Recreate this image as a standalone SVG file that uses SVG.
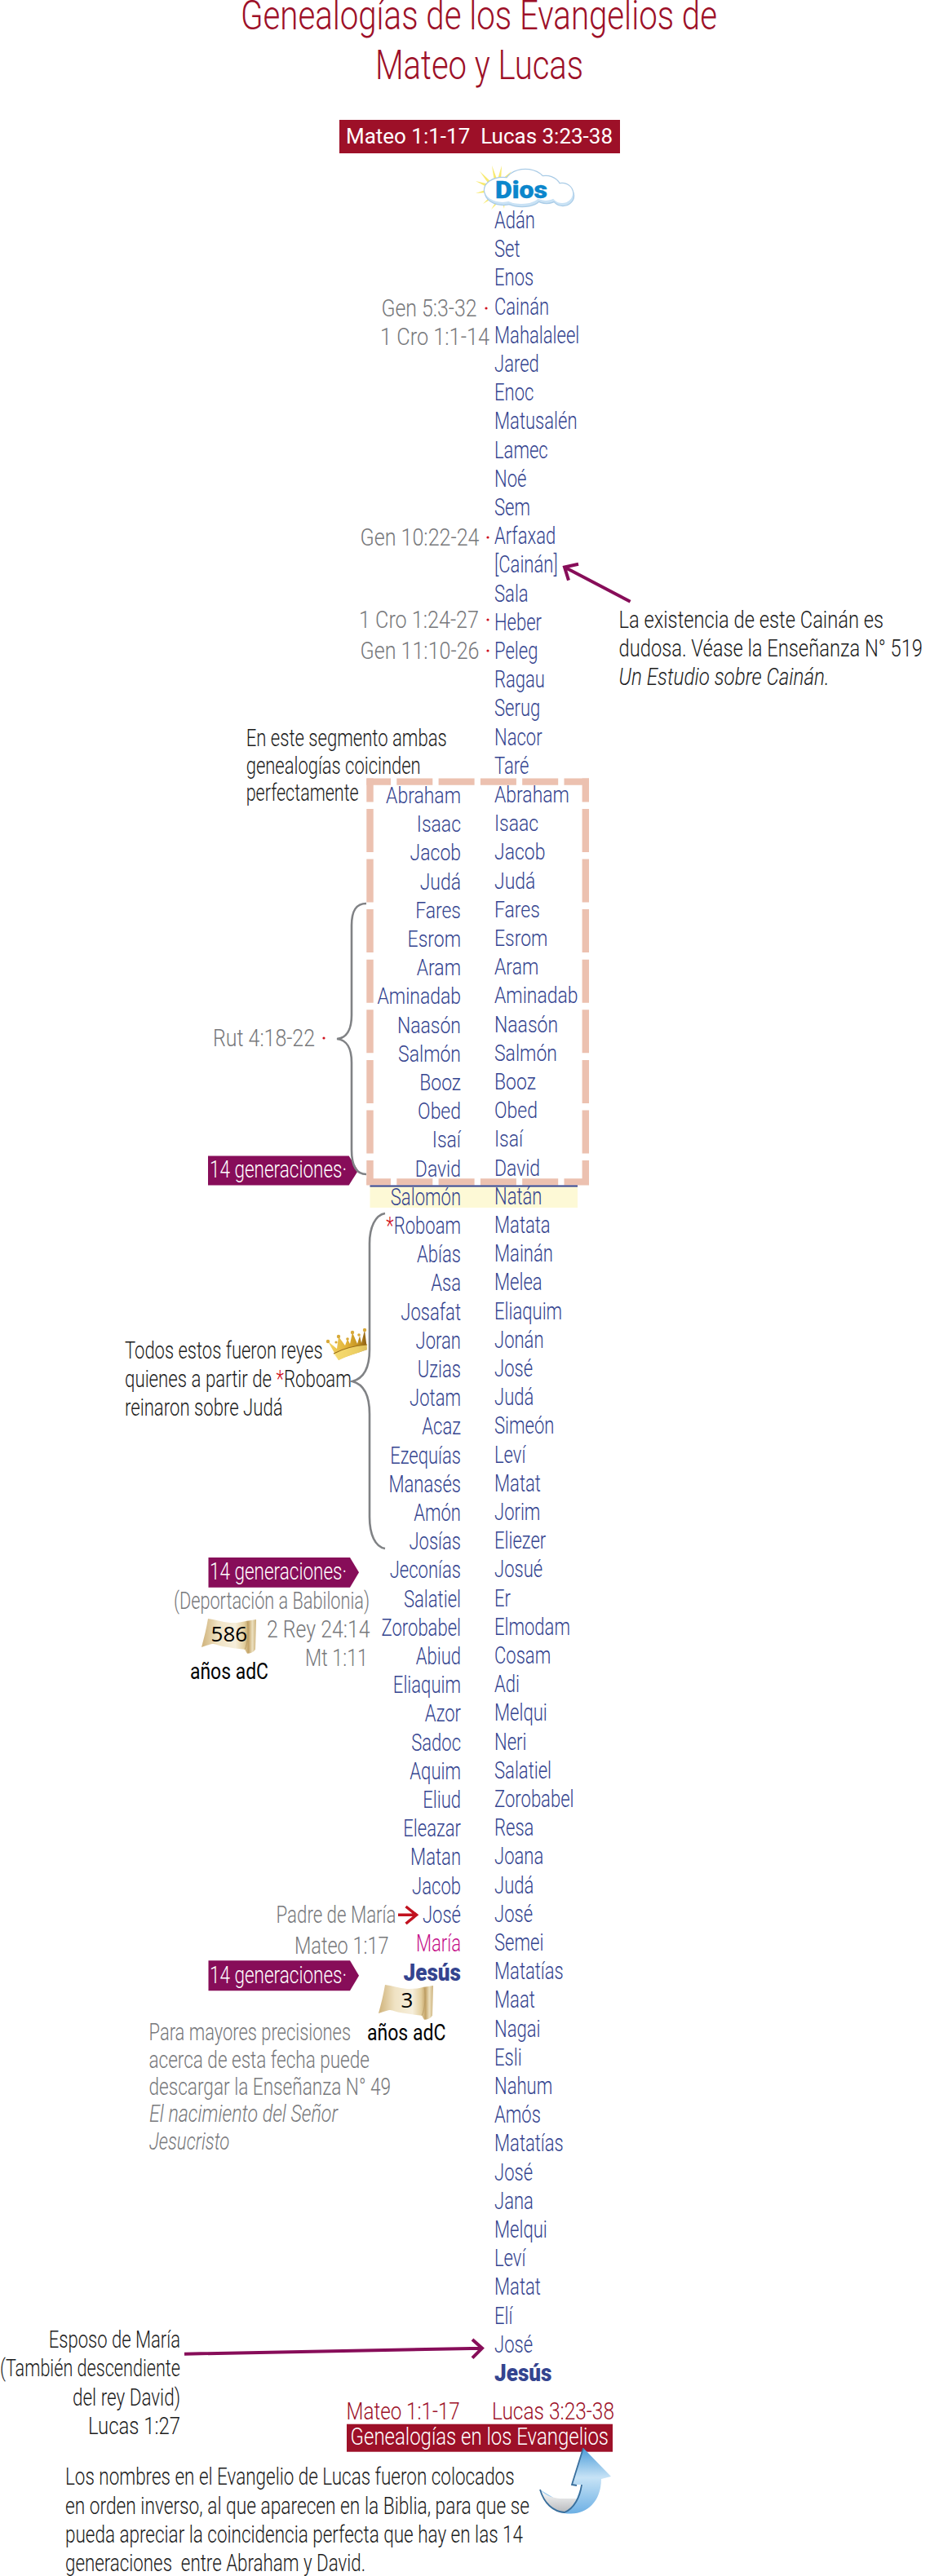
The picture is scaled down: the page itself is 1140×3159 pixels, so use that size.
<svg xmlns="http://www.w3.org/2000/svg" width="1140" height="3159" viewBox="0 0 1140 3159">
<style>
text{font-family:Roboto,"Liberation Sans",Arial,sans-serif;font-weight:300;font-size:29px}
.nm text{fill:#34448f;font-size:29px}
.end text{text-anchor:end}
.inbox text{font-size:28px}
.ref{fill:#77787b}
.blk{fill:#1c1c1c}
.wht{fill:#fff}
.dot{fill:#d0121e}
.tag{fill:#870d59}
.tagt{fill:#fff;font-size:30px}
.bar{fill:#9d1028}
.rd{fill:#9d1028}
.brace{fill:none;stroke:#808285;stroke-width:2.6}
.dash{fill:none;stroke:#ecc1b0;stroke-width:8.4}
.arr{fill:none;stroke:#870d59;stroke-width:4}
</style>
<defs>
<linearGradient id="gold" x1="0" y1="0" x2="1" y2="0"><stop offset="0" stop-color="#cfb27a"/><stop offset=".3" stop-color="#f0e3c4"/><stop offset=".62" stop-color="#f6eedb"/><stop offset=".78" stop-color="#e3cf9f"/><stop offset=".86" stop-color="#c4a468"/><stop offset=".93" stop-color="#ece0bf"/><stop offset="1" stop-color="#cdb27c"/></linearGradient>
<linearGradient id="crownG" x1="0" y1="0" x2="1" y2="0"><stop offset="0" stop-color="#f3d566"/><stop offset=".45" stop-color="#e3b439"/><stop offset=".75" stop-color="#c69522"/><stop offset="1" stop-color="#8a5c14"/></linearGradient>
<linearGradient id="blueA" x1="0" y1="0" x2="0" y2="1"><stop offset="0" stop-color="#4a9bd8"/><stop offset=".45" stop-color="#c7e3f6"/><stop offset="1" stop-color="#6db0e4"/></linearGradient>
<linearGradient id="ribbon" x1="0" y1="0" x2="0" y2="1"><stop offset="0" stop-color="#ffffff"/><stop offset="1" stop-color="#b9bbbe"/></linearGradient>
<symbol id="scroll" viewBox="0 0 68 45"><path d="M8 2 C16 3 25 6 35 7 C44 7.500 50 6 56 4.700 L67 3 L66 39.700 C64 43 60 44.700 56 44.700 L53 39.700 C44 39 35 37.500 26 36 C20 34.500 17 33 13 33 C8 34 4 36 0 37 C3 26 6 14 8 2Z" fill="url(#gold)"/><path d="M56 4.700 C58 17 57 32 53 39.700" fill="none" stroke="#b39660" stroke-width=".7"/></symbol>
<g id="cl"><ellipse cx="617" cy="236" rx="22" ry="15"/><ellipse cx="645" cy="229" rx="25" ry="18"/><ellipse cx="670" cy="234" rx="18" ry="15"/><ellipse cx="690" cy="240" rx="13" ry="12"/><ellipse cx="640" cy="243" rx="22" ry="10"/></g>
</defs>

<g id="title" class="rd">
<text x="295" y="36" style="font-size:50px" textLength="584" lengthAdjust="spacingAndGlyphs">Genealogías de los Evangelios de</text>
<text x="460" y="97" style="font-size:50px" textLength="255" lengthAdjust="spacingAndGlyphs">Mateo y Lucas</text>
</g>

<g id="bar-top"><rect class="bar" x="416" y="147" width="344" height="41"/>
<text class="wht" x="424" y="175.500" style="font-size:25px;font-weight:400" textLength="327" lengthAdjust="spacingAndGlyphs" xml:space="preserve">Mateo 1:1-17  Lucas 3:23-38</text></g>

<g id="dios">
<g fill="#f8ea70"><path d="M583 222 L600 226 L598 230Z"/><path d="M583 237 L598 232 L598 236Z"/><path d="M588 210 L603 224 L600 227Z"/><path d="M603 203 L610 222 L606 223Z"/><path d="M615 203 L614 222 L610 220Z"/><path d="M627 210 L618 222 L615 220Z"/><path d="M592 250 L604 238 L607 241Z"/><path d="M602 257 L610 244 L613 246Z"/><path d="M618 256 L615 245 L619 245Z"/></g>
<use href="#cl" fill="#a9cbe6" stroke="#a9cbe6" stroke-width="2.400"/>
<use href="#cl" fill="#a9cbe6" stroke="#a9cbe6" stroke-width="2.400" transform="translate(-1 -3)"/>
<use href="#cl" fill="#c9e2f5"/>
<use href="#cl" fill="#fff" transform="translate(-1 -3)"/>
<text x="607" y="243" style="font-size:29px;font-weight:900;fill:#0b86cc;stroke:#0b86cc;stroke-width:.4" textLength="64" lengthAdjust="spacingAndGlyphs">Dios</text>
</g>

<g id="refs" class="ref">
<text x="467.500" y="388" textLength="117" lengthAdjust="spacingAndGlyphs">Gen 5:3-32</text>
<text x="466" y="423" textLength="134" lengthAdjust="spacingAndGlyphs">1 Cro 1:1-14</text>
<text x="441.500" y="669" textLength="146" lengthAdjust="spacingAndGlyphs">Gen 10:22-24</text>
<text x="440" y="770" textLength="147" lengthAdjust="spacingAndGlyphs">1 Cro 1:24-27</text>
<text x="441.500" y="808" textLength="146" lengthAdjust="spacingAndGlyphs">Gen 11:10-26</text>
<text x="261" y="1282.600" textLength="125" lengthAdjust="spacingAndGlyphs">Rut 4:18-22</text>
<text x="213" y="1972.700" textLength="240" lengthAdjust="spacingAndGlyphs">(Deportación a Babilonia)</text>
<text x="327" y="2007.700" textLength="126.500" lengthAdjust="spacingAndGlyphs">2 Rey 24:14</text>
<text x="374" y="2042.700" textLength="77" lengthAdjust="spacingAndGlyphs">Mt 1:11</text>
<text x="338.500" y="2358" textLength="147" lengthAdjust="spacingAndGlyphs">Padre de María</text>
<text x="361" y="2395.700" textLength="115.500" lengthAdjust="spacingAndGlyphs">Mateo 1:17</text>
</g>
<g id="ref-dots" class="dot">
<circle cx="596" cy="378" r="1.600"/><circle cx="598" cy="659" r="1.600"/><circle cx="598" cy="760" r="1.600"/><circle cx="598" cy="798" r="1.600"/><circle cx="397" cy="1273" r="1.600"/>
</g>

<g id="dashed-box" class="dash">
<path stroke-dasharray="29.700 7.300 44 7.300 44 7.300 44 7.300 44 7.300 31" d="M449.300 958.600H722"/>
<path stroke-dasharray="29.700 7.300 44 7.300 44 7.300 44 7.300 44 7.300 31" d="M449.300 1449.400H722"/>
<path stroke-dasharray="29 8.500 53 8.600 53 8.600 53 8.600 53 8.600 53 8.600 53 8.600 53 8.600 30" d="M453.500 954.400V1453.600"/>
<path stroke-dasharray="29 8.500 53 8.600 53 8.600 53 8.600 53 8.600 53 8.600 53 8.600 53 8.600 30" d="M717.800 954.400V1453.600"/>
</g>

<g id="salomon-row"><rect x="453.500" y="1454" width="254.500" height="27" fill="#fdf9d6"/><path d="M453.500 1454.500H708" stroke="#34448f" stroke-width="2"/></g>

<g id="mateo-box" class="nm end inbox" transform="translate(565 1) scale(.82 1)">
<text y="984">Abraham</text><text y="1019.200">Isaac</text><text y="1054.400">Jacob</text><text y="1089.600">Judá</text><text y="1124.800">Fares</text><text y="1160">Esrom</text><text y="1195.200">Aram</text><text y="1230.400">Aminadab</text><text y="1265.600">Naasón</text><text y="1300.800">Salmón</text><text y="1336">Booz</text><text y="1371.200">Obed</text><text y="1406.400">Isaí</text><text y="1441.600">David</text>
</g>
<g id="lucas-box" class="nm inbox" transform="translate(606 0) scale(.82 1)">
<text y="984">Abraham</text><text y="1019.200">Isaac</text><text y="1054.400">Jacob</text><text y="1089.600">Judá</text><text y="1124.800">Fares</text><text y="1160">Esrom</text><text y="1195.200">Aram</text><text y="1230.400">Aminadab</text><text y="1265.600">Naasón</text><text y="1300.800">Salmón</text><text y="1336">Booz</text><text y="1371.200">Obed</text><text y="1406.400">Isaí</text><text y="1441.600">David</text>
</g>

<g id="mateo-names" class="nm end" transform="translate(565 1) scale(.76 1)">
<text y="1476.800">Salomón</text>
<text y="1512"><tspan fill="#d0121e">*</tspan>Roboam</text><text y="1547.200">Abías</text><text y="1582.400">Asa</text><text y="1617.600">Josafat</text><text y="1652.800">Joran</text><text y="1688">Uzias</text><text y="1723.200">Jotam</text><text y="1758.400">Acaz</text><text y="1793.600">Ezequías</text><text y="1828.800">Manasés</text><text y="1864">Amón</text><text y="1899.200">Josías</text>
<text y="1934.400">Jeconías</text><text y="1969.600">Salatiel</text><text y="2004.800">Zorobabel</text><text y="2040">Abiud</text><text y="2075.200">Eliaquim</text><text y="2110.400">Azor</text><text y="2145.600">Sadoc</text><text y="2180.800">Aquim</text><text y="2216">Eliud</text><text y="2251.200">Eleazar</text><text y="2286.400">Matan</text><text y="2321.600">Jacob</text><text y="2356.800">José</text>
<text y="2392" style="fill:#c6128b">María</text>
</g>
<g id="jesus-mateo"><text x="494.600" y="2429" style="font-weight:900;fill:#34448f" textLength="70.400" lengthAdjust="spacingAndGlyphs">Jesús</text></g>

<g id="lucas-names" class="nm" transform="translate(606 0) scale(.76 1)">
<text y="280">Adán</text><text y="315.200">Set</text><text y="350.400">Enos</text><text y="385.600">Cainán</text><text y="420.800">Mahalaleel</text><text y="456">Jared</text><text y="491.200">Enoc</text><text y="526.400">Matusalén</text><text y="561.600">Lamec</text><text y="596.800">Noé</text><text y="632">Sem</text><text y="667.200">Arfaxad</text><text y="702.400">[Cainán]</text><text y="737.600">Sala</text><text y="772.800">Heber</text><text y="808">Peleg</text><text y="843.200">Ragau</text><text y="878.400">Serug</text><text y="913.600">Nacor</text><text y="948.800">Taré</text>
<text y="1476.800">Natán</text><text y="1512">Matata</text><text y="1547.200">Mainán</text><text y="1582.400">Melea</text><text y="1617.600">Eliaquim</text><text y="1652.800">Jonán</text><text y="1688">José</text><text y="1723.200">Judá</text><text y="1758.400">Simeón</text><text y="1793.600">Leví</text><text y="1828.800">Matat</text><text y="1864">Jorim</text><text y="1899.200">Eliezer</text><text y="1934.400">Josué</text><text y="1969.600">Er</text><text y="2004.800">Elmodam</text><text y="2040">Cosam</text><text y="2075.200">Adi</text><text y="2110.400">Melqui</text><text y="2145.600">Neri</text><text y="2180.800">Salatiel</text><text y="2216">Zorobabel</text><text y="2251.200">Resa</text><text y="2286.400">Joana</text><text y="2321.600">Judá</text><text y="2356.800">José</text><text y="2392">Semei</text><text y="2427.200">Matatías</text><text y="2462.400">Maat</text><text y="2497.600">Nagai</text><text y="2532.800">Esli</text><text y="2568">Nahum</text><text y="2603.200">Amós</text><text y="2638.400">Matatías</text><text y="2673.600">José</text><text y="2708.800">Jana</text><text y="2744">Melqui</text><text y="2779.200">Leví</text><text y="2814.400">Matat</text><text y="2849.600">Elí</text><text y="2884.800">José</text>
</g>
<g id="jesus-lucas"><text x="606" y="2920" style="font-weight:900;fill:#34448f" textLength="70.500" lengthAdjust="spacingAndGlyphs">Jesús</text></g>

<g id="notes" class="blk">
<text x="758.500" y="770" textLength="324.500" lengthAdjust="spacingAndGlyphs">La existencia de este Cainán es</text>
<text x="758.500" y="805" textLength="372.500" lengthAdjust="spacingAndGlyphs">dudosa. Véase la Enseñanza N° 519</text>
<text x="758.500" y="840" font-style="italic" textLength="258" lengthAdjust="spacingAndGlyphs">Un Estudio sobre Cainán.</text>
<text x="301.700" y="915.300" textLength="246" lengthAdjust="spacingAndGlyphs">En este segmento ambas</text>
<text x="301.700" y="949" textLength="214" lengthAdjust="spacingAndGlyphs">genealogías coicinden</text>
<text x="301.700" y="982" textLength="138" lengthAdjust="spacingAndGlyphs">perfectamente</text>
<text x="153" y="1665.700" textLength="242.600" lengthAdjust="spacingAndGlyphs">Todos estos fueron reyes</text>
<text x="153" y="1701" textLength="278" lengthAdjust="spacingAndGlyphs">quienes a partir de <tspan fill="#d0121e">*</tspan>Roboam</text>
<text x="153" y="1736" textLength="193.600" lengthAdjust="spacingAndGlyphs">reinaron sobre Judá</text>
<text x="59.700" y="2879.300" textLength="161.300" lengthAdjust="spacingAndGlyphs">Esposo de María</text>
<text x="0" y="2914.300" textLength="221" lengthAdjust="spacingAndGlyphs">(También descendiente</text>
<text x="89" y="2950" textLength="132" lengthAdjust="spacingAndGlyphs">del rey David)</text>
<text x="108" y="2985" textLength="113" lengthAdjust="spacingAndGlyphs">Lucas 1:27</text>
<text x="80" y="3047.300" textLength="550.600" lengthAdjust="spacingAndGlyphs">Los nombres en el Evangelio de Lucas fueron colocados</text>
<text x="80" y="3082.700" textLength="569" lengthAdjust="spacingAndGlyphs">en orden inverso, al que aparecen en la Biblia, para que se</text>
<text x="80" y="3118.300" textLength="561" lengthAdjust="spacingAndGlyphs">pueda apreciar la coincidencia perfecta que hay en las 14</text>
<text x="80" y="3153.300" textLength="368" lengthAdjust="spacingAndGlyphs" xml:space="preserve">generaciones  entre Abraham y David.</text>
</g>

<g id="note-nacimiento" class="ref">
<text x="182.500" y="2502" textLength="247.500" lengthAdjust="spacingAndGlyphs">Para mayores precisiones</text>
<text x="182.500" y="2535.700" textLength="270.400" lengthAdjust="spacingAndGlyphs">acerca de esta fecha puede</text>
<text x="182.500" y="2569" textLength="296.500" lengthAdjust="spacingAndGlyphs">descargar la Enseñanza N° 49</text>
<text x="183" y="2602.300" font-style="italic" textLength="231" lengthAdjust="spacingAndGlyphs">El nacimiento del Señor</text>
<text x="183" y="2636" font-style="italic" textLength="98.400" lengthAdjust="spacingAndGlyphs">Jesucristo</text>
</g>

<g id="tags">
<g id="tag1"><path class="tag" d="M255 1417.600H427.700L439 1435.600L427.700 1453.600H255Z"/><text class="tagt" x="257" y="1444" textLength="168" lengthAdjust="spacingAndGlyphs">14 generaciones·</text></g>
<g id="tag2"><path class="tag" d="M255.500 1910H429L440 1928.300L429 1946.700H255.500Z"/><text class="tagt" x="257" y="1937" textLength="168" lengthAdjust="spacingAndGlyphs">14 generaciones·</text></g>
<g id="tag3"><path class="tag" d="M255.500 2404.300H429L440 2422.800L429 2441.300H255.500Z"/><text class="tagt" x="257" y="2432" textLength="168" lengthAdjust="spacingAndGlyphs">14 generaciones·</text></g>
</g>

<g id="crown">
<path d="M402 1645 L413 1654 L415 1639 L423 1650 L426 1642 L429 1648 L432 1634 L438 1648 L441 1638 L443 1647 L447 1631 L450 1655 C436 1660 425 1663 415 1668 Z" fill="url(#crownG)"/>
<path d="M409 1660 C422 1653 436 1650 450 1649 L450 1655 C436 1660 425 1663 415 1668 Z" fill="#f7e07a" opacity=".75"/>
<path d="M409 1660 C422 1653 436 1650 450 1649" stroke="#9a6e18" stroke-width="1.200" fill="none"/>
<g fill="#d8a93a"><circle cx="402" cy="1645" r="2.200"/><circle cx="412" cy="1646" r="1.600"/><circle cx="415" cy="1639" r="2.200"/><circle cx="426" cy="1642" r="1.800"/><circle cx="432" cy="1634" r="2.200"/><circle cx="440" cy="1637" r="1.800"/><circle cx="447" cy="1631" r="2.200"/></g>
</g>

<g id="date-586"><use href="#scroll" x="247" y="1983" width="68" height="45"/>
<text x="258.600" y="2013" style="font-family:'Open Sans',sans-serif;font-size:26px;font-weight:500;fill:#000">586</text>
<text x="233" y="2059" style="fill:#000;font-weight:400;font-size:28px" textLength="96" lengthAdjust="spacingAndGlyphs">años adC</text></g>
<g id="date-3"><use href="#scroll" x="464" y="2432" width="68" height="45"/>
<text x="491.500" y="2461.700" style="font-family:'Open Sans',sans-serif;font-size:26px;font-weight:500;fill:#000">3</text>
<text x="450" y="2501.700" style="fill:#000;font-weight:400;font-size:28px" textLength="96.400" lengthAdjust="spacingAndGlyphs">años adC</text></g>

<g id="bottom-refs" class="rd">
<text x="424.500" y="2966.700" textLength="139.300" lengthAdjust="spacingAndGlyphs">Mateo 1:1-17</text>
<text x="603" y="2966.700" textLength="150" lengthAdjust="spacingAndGlyphs">Lucas 3:23-38</text>
</g>
<g id="bar-bottom"><rect class="bar" x="425" y="2972.700" width="326" height="34"/>
<text class="wht" x="429.600" y="2998.300" style="font-size:30px" textLength="316.400" lengthAdjust="spacingAndGlyphs">Genealogías en los Evangelios</text></g>

<g id="curved-arrow">
<path d="M715 3002 L749 3037 L737 3040 C737 3062 725 3082 700 3082.500 C680 3083 668 3072 662 3053 L680 3064 L707 3064 L713 3047 L701 3047Z" fill="url(#blueA)"/>
<path d="M662 3053 C668 3060 676 3063 686 3064 L707 3064 C702 3074 696 3080 690 3080 C676 3078 667 3068 662 3053Z" fill="url(#ribbon)"/>
<path d="M715 3002 L701 3047 L707 3048 M713 3047 C711 3062 704 3076 692 3081 C678 3080 667 3070 662 3053" fill="none" stroke="#3a6f9c" stroke-width="1.800"/>
</g>

<g id="connectors">
<path class="brace" d="M449 1108C437 1108 431 1116 431 1135V1245C431 1262 425 1273 413 1274C425 1275 431 1286 431 1303V1410C431 1430 437 1440 449 1440"/>
<path class="brace" d="M472 1488C460 1490 453 1505 453 1525V1655C453 1675 447 1690 432 1694C447 1698 453 1714 453 1734V1860C453 1882 460 1897 472 1899"/>
<path class="arr" d="M772.600 737.700L692 695.500M709 691.700L692 695.500L697 711.700"/>
<path class="arr" d="M226 2886.700L591 2879.700M579 2869L591 2879.700L579 2891.700" stroke-width="3.500"/>
<path d="M488 2348.300H510M497.500 2338L510.500 2348.300L497.500 2359" fill="none" stroke="#c1121f" stroke-width="3.500"/>
</g>
</svg>
